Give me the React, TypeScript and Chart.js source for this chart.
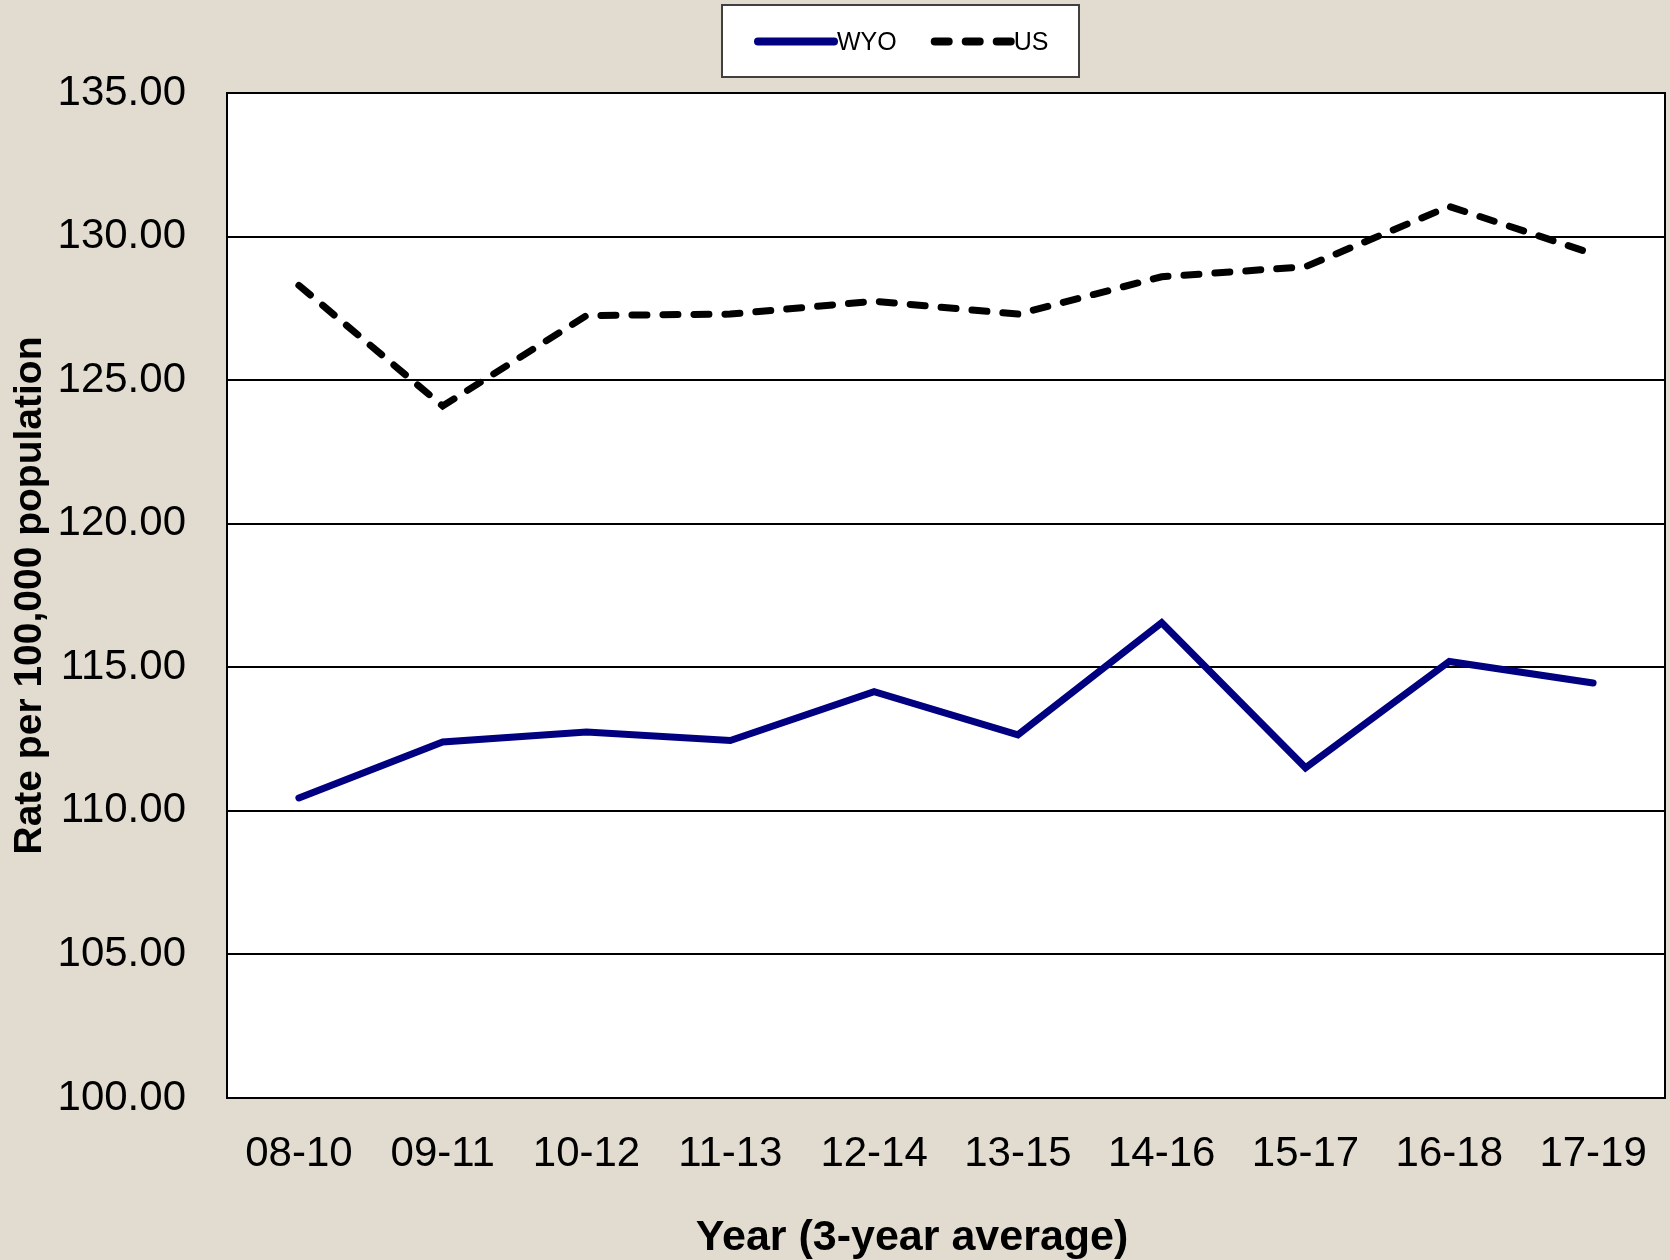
import { useEffect, useRef } from 'react';
import { Chart, registerables } from 'chart.js';

Chart.register(...registerables);

// ---- data ----
const categories = ['08-10', '09-11', '10-12', '11-13', '12-14', '13-15', '14-16', '15-17', '16-18', '17-19'];
const wyoValues = [110.45, 112.4, 112.75, 112.45, 114.15, 112.65, 116.55, 111.5, 115.2, 114.45];
const usValues = [128.3, 124.1, 127.25, 127.3, 127.75, 127.3, 128.6, 128.95, 131.05, 129.4];
const seriesLabels = ['WYO', 'US'];
const yAxisTitle = 'Rate per 100,000 population';
const xAxisTitle = 'Year (3-year average)';
const yMin = 100;
const yMax = 135;
const yStep = 5;

const FONT = "'Liberation Sans', Arial, Helvetica, sans-serif";
const BG = '#E2DCD0';
const W = 1670;
const H = 1260;

export default function App() {
  const ref = useRef<HTMLCanvasElement>(null);

  useEffect(() => {
    const canvas = ref.current;
    if (!canvas) return;

    const bgPlugin = {
      id: 'bgPlugin',
      beforeDraw(chart: any) {
        const { ctx, chartArea: a, width, height } = chart;
        ctx.save();
        ctx.fillStyle = BG;
        ctx.fillRect(0, 0, width, height);
        ctx.fillStyle = '#ffffff';
        ctx.fillRect(a.left, a.top, a.right - a.left, a.bottom - a.top);
        ctx.restore();
      },
    };

    const decorPlugin = {
      id: 'decorPlugin',
      afterDraw(chart: any) {
        const { ctx, chartArea: a } = chart;
        ctx.save();
        // plot frame
        ctx.strokeStyle = '#000';
        ctx.lineWidth = 2;
        ctx.strokeRect(Math.round(a.left), Math.round(a.top), Math.round(a.right - a.left), Math.round(a.bottom - a.top));

        // x-axis title
        ctx.fillStyle = '#000';
        ctx.font = `bold 43px ${FONT}`;
        ctx.textAlign = 'center';
        ctx.textBaseline = 'alphabetic';
        ctx.fillText(xAxisTitle, 912, 1250);

        // legend
        const bx = 722, by = 5, bw = 357, bh = 72;
        ctx.fillStyle = '#ffffff';
        ctx.fillRect(bx, by, bw, bh);
        ctx.strokeStyle = '#404040';
        ctx.lineWidth = 2;
        ctx.strokeRect(bx, by, bw, bh);
        ctx.font = `25px ${FONT}`;
        ctx.textAlign = 'left';
        let x = bx + 36;
        const ly = 41.5;
        chart.data.datasets.forEach((ds: any) => {
          ctx.save();
          ctx.strokeStyle = ds.borderColor;
          ctx.lineWidth = 8;
          ctx.lineCap = 'round';
          ctx.setLineDash(ds.borderDash && ds.borderDash.length ? [14, 17] : []);
          ctx.beginPath();
          ctx.moveTo(x, ly);
          ctx.lineTo(x + 76, ly);
          ctx.stroke();
          ctx.restore();
          ctx.fillStyle = '#000';
          ctx.fillText(ds.label, x + 79, 50);
          x += 79 + ctx.measureText(ds.label).width + 38;
        });
        ctx.restore();
      },
    };

    const chart = new Chart(canvas, {
      type: 'line',
      data: {
        labels: categories,
        datasets: [
          {
            label: seriesLabels[0],
            data: wyoValues,
            borderColor: '#000080',
            backgroundColor: '#000080',
            borderWidth: 7,
            pointRadius: 0,
            tension: 0,
            fill: false,
            borderCapStyle: 'round',
            borderJoinStyle: 'miter',
          },
          {
            label: seriesLabels[1],
            data: usValues,
            borderColor: '#000000',
            backgroundColor: '#000000',
            borderWidth: 7,
            borderDash: [15, 16],
            pointRadius: 0,
            tension: 0,
            fill: false,
            borderCapStyle: 'round',
            borderJoinStyle: 'miter',
          },
        ],
      },
      options: {
        responsive: false,
        animation: false,
        devicePixelRatio: 1,
        layout: { autoPadding: false, padding: { top: 93, right: 5, left: 0, bottom: 0 } },
        plugins: {
          legend: { display: false },
          tooltip: { enabled: false },
          title: { display: false },
        },
        scales: {
          x: {
            offset: true,
            grid: { display: false, drawTicks: false },
            border: { display: false },
            ticks: {
              color: '#000',
              font: { family: FONT, size: 42 },
              padding: 31,
              maxRotation: 0,
              autoSkip: false,
            },
            afterFit(scale: any) {
              scale.height = 162;
              scale.paddingLeft = 0;
              scale.paddingRight = 0;
            },
          },
          y: {
            min: yMin,
            max: yMax,
            grid: { color: '#000', lineWidth: 2, drawTicks: false },
            border: { display: false },
            ticks: {
              stepSize: yStep,
              color: '#000',
              font: { family: FONT, size: 42 },
              padding: 41,
              callback: (v: any) => Number(v).toFixed(2),
            },
            title: {
              display: true,
              text: yAxisTitle,
              color: '#000',
              font: { family: FONT, size: 39, weight: 'bold' },
              padding: { top: 7, bottom: 0 },
            },
            afterFit(scale: any) {
              scale.width = 227;
            },
          },
        },
      },
      plugins: [bgPlugin, decorPlugin],
    } as any);

    return () => chart.destroy();
  }, []);

  return (
    <div style={{ position: 'fixed', left: 0, top: 0, width: W, height: H, background: BG }}>
      <canvas ref={ref} width={W} height={H} style={{ width: W, height: H, display: 'block' }} />
    </div>
  );
}
